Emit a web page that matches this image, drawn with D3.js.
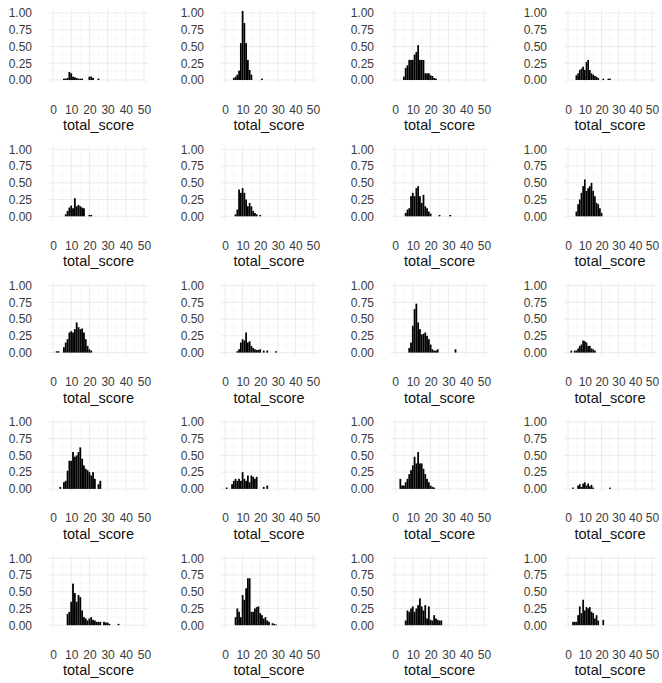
<!DOCTYPE html>
<html><head><meta charset="utf-8">
<script src="https://cdn.jsdelivr.net/npm/d3@7"></script>
<style>body{margin:0;background:#fff}svg{display:block}</style>
</head><body>
<svg id="c" width="662" height="683"></svg>
<script>
// [score, height] pairs per panel (row by row)
const panel01 = [[6,0.02],[7,0.02],[8,0.03],[9,0.12],[10,0.10],[11,0.05],[12,0.04],[13,0.03],[14,0.02],[15,0.02],[16,0.02],[20,0.05],[21,0.05],[22,0.03],[25,0.02]];
const panel02 = [[5,0.03],[6,0.05],[7,0.08],[8,0.14],[9,0.55],[10,1.03],[11,0.85],[12,0.55],[13,0.3],[14,0.15],[15,0.08],[21,0.02]];
const panel03 = [[5,0.05],[6,0.18],[7,0.22],[8,0.3],[9,0.3],[10,0.3],[11,0.38],[12,0.42],[13,0.52],[14,0.3],[15,0.3],[16,0.3],[17,0.1],[18,0.1],[19,0.1],[20,0.07],[21,0.06],[22,0.03],[23,0.02]];
const panel04 = [[5,0.07],[6,0.1],[7,0.15],[8,0.17],[9,0.2],[10,0.15],[11,0.27],[12,0.3],[13,0.15],[14,0.1],[15,0.08],[16,0.06],[17,0.05],[18,0.03],[21,0.02],[24,0.02],[25,0.02]];
const panel05 = [[7,0.03],[8,0.08],[9,0.13],[10,0.16],[11,0.12],[12,0.27],[13,0.15],[14,0.17],[15,0.15],[16,0.13],[17,0.12],[20,0.02],[21,0.02]];
const panel06 = [[6,0.03],[7,0.1],[8,0.4],[9,0.35],[10,0.42],[11,0.35],[12,0.25],[13,0.15],[14,0.2],[15,0.15],[16,0.08],[17,0.05],[18,0.03],[20,0.02]];
const panel07 = [[6,0.05],[7,0.1],[8,0.12],[9,0.3],[10,0.35],[11,0.3],[12,0.42],[13,0.45],[14,0.3],[15,0.2],[16,0.32],[17,0.15],[18,0.12],[19,0.07],[20,0.04],[25,0.02],[31,0.02]];
const panel08 = [[5,0.07],[6,0.18],[7,0.25],[8,0.35],[9,0.45],[10,0.55],[11,0.38],[12,0.42],[13,0.45],[14,0.5],[15,0.38],[16,0.3],[17,0.2],[18,0.18],[19,0.12],[20,0.05]];
const panel09 = [[2,0.02],[3,0.02],[6,0.08],[7,0.15],[8,0.2],[9,0.3],[10,0.32],[11,0.3],[12,0.35],[13,0.45],[14,0.38],[15,0.35],[16,0.36],[17,0.3],[18,0.2],[19,0.1],[20,0.05],[21,0.03]];
const panel10 = [[7,0.02],[8,0.05],[9,0.15],[10,0.2],[11,0.18],[12,0.3],[13,0.15],[14,0.17],[15,0.1],[16,0.07],[17,0.05],[18,0.04],[19,0.04],[20,0.05],[22,0.03],[24,0.03],[29,0.02]];
const panel11 = [[8,0.07],[9,0.15],[10,0.4],[11,0.65],[12,0.73],[13,0.45],[14,0.35],[15,0.27],[16,0.28],[17,0.3],[18,0.25],[19,0.2],[20,0.12],[21,0.05],[22,0.03],[23,0.03],[24,0.05],[34,0.05]];
const panel12 = [[2,0.03],[4,0.03],[5,0.03],[6,0.06],[7,0.1],[8,0.12],[9,0.18],[10,0.17],[11,0.15],[12,0.1],[13,0.1],[14,0.06],[15,0.05],[16,0.03]];
const panel13 = [[4,0.03],[6,0.1],[7,0.12],[8,0.27],[9,0.42],[10,0.42],[11,0.55],[12,0.48],[13,0.5],[14,0.55],[15,0.62],[16,0.45],[17,0.35],[18,0.3],[19,0.28],[20,0.25],[21,0.2],[22,0.25],[23,0.15],[25,0.07],[26,0.12]];
const panel14 = [[1,0.02],[4,0.07],[5,0.12],[6,0.15],[7,0.12],[8,0.15],[9,0.12],[10,0.25],[11,0.15],[12,0.12],[13,0.2],[14,0.1],[15,0.2],[16,0.18],[17,0.15],[18,0.18],[22,0.03],[24,0.05]];
const panel15 = [[3,0.15],[4,0.05],[5,0.05],[6,0.1],[7,0.15],[8,0.22],[9,0.28],[10,0.35],[11,0.48],[12,0.38],[13,0.55],[14,0.38],[15,0.38],[16,0.3],[17,0.22],[18,0.15],[19,0.1],[20,0.05],[21,0.03],[22,0.02]];
const panel16 = [[3,0.02],[6,0.05],[7,0.07],[8,0.03],[9,0.08],[10,0.1],[11,0.05],[12,0.08],[13,0.04],[14,0.06],[15,0.02],[25,0.02]];
const panel17 = [[8,0.17],[9,0.2],[10,0.35],[11,0.62],[12,0.48],[13,0.35],[14,0.45],[15,0.42],[16,0.22],[17,0.12],[18,0.1],[19,0.07],[20,0.1],[21,0.12],[22,0.08],[23,0.07],[24,0.05],[25,0.05],[26,0.05],[28,0.05],[29,0.04],[30,0.04],[31,0.02],[36,0.02]];
const panel18 = [[6,0.12],[7,0.25],[8,0.2],[9,0.12],[10,0.45],[11,0.38],[12,0.55],[13,0.7],[14,0.7],[15,0.2],[16,0.2],[17,0.25],[18,0.27],[19,0.28],[20,0.18],[21,0.15],[22,0.1],[23,0.12],[24,0.07],[25,0.05],[27,0.03],[28,0.02],[29,0.01]];
const panel19 = [[6,0.07],[7,0.22],[8,0.2],[9,0.25],[10,0.28],[11,0.2],[12,0.25],[13,0.3],[14,0.4],[15,0.28],[16,0.22],[17,0.3],[18,0.1],[19,0.28],[20,0.08],[21,0.07],[22,0.15],[23,0.1],[24,0.08],[25,0.07],[26,0.07]];
const panel20 = [[3,0.05],[4,0.05],[5,0.05],[6,0.15],[7,0.28],[8,0.18],[9,0.38],[10,0.22],[11,0.27],[12,0.25],[13,0.27],[14,0.2],[15,0.18],[16,0.1],[17,0.15],[18,0.07],[21,0.08]];

const xTicks = [0, 10, 20, 30, 40, 50];
const xMinor = [5, 15, 25, 35, 45];
const yTicks = [0, 0.25, 0.5, 0.75, 1];
const yMinor = [0.125, 0.375, 0.625, 0.875];
const xTitle = "total_score";

const panels = [panel01,panel02,panel03,panel04,panel05,panel06,panel07,panel08,panel09,panel10,
                panel11,panel12,panel13,panel14,panel15,panel16,panel17,panel18,panel19,panel20];

const svg = d3.select("#c");
const font = "'Liberation Sans', Arial, sans-serif";
const colZero = [53, 225, 395, 568];   // pixel of score 0 per column
const colSpan = [91, 88, 89, 84];      // pixels from 0 to 50 per column
const unitY = 67;

panels.forEach((data, i) => {
  const r = Math.floor(i / 4), c = i % 4;
  const x0 = colZero[c];
  const ux = colSpan[c] / 50;
  const y0 = 80 + 136.3 * r;          // pixel of value 0
  const x = d3.scaleLinear().domain([-2.5, 52.5]).range([x0 - 2.5*ux, x0 + 52.5*ux]);
  const y = d3.scaleLinear().domain([-0.05, 1.05]).range([y0 + 0.05*unitY, y0 - 1.05*unitY]);
  const g = svg.append("g");

  // grid
  g.selectAll(".vmin").data(xMinor).join("line")
    .attr("x1", d => x(d)).attr("x2", d => x(d)).attr("y1", y(-0.05)).attr("y2", y(1.05))
    .attr("stroke", "#f3f3f3").attr("stroke-width", 0.6);
  g.selectAll(".hmin").data(yMinor).join("line")
    .attr("y1", d => y(d)).attr("y2", d => y(d)).attr("x1", x(-2.5)).attr("x2", x(52.5))
    .attr("stroke", "#f3f3f3").attr("stroke-width", 0.6);
  g.selectAll(".vmaj").data(xTicks).join("line")
    .attr("x1", d => x(d)).attr("x2", d => x(d)).attr("y1", y(-0.05)).attr("y2", y(1.05))
    .attr("stroke", "#ebebeb").attr("stroke-width", 1);
  g.selectAll(".hmaj").data(yTicks).join("line")
    .attr("y1", d => y(d)).attr("y2", d => y(d)).attr("x1", x(-2.5)).attr("x2", x(52.5))
    .attr("stroke", "#ebebeb").attr("stroke-width", 1);

  // bars
  g.selectAll("rect").data(data).join("rect")
    .attr("x", d => x(d[0] - 0.5)).attr("width", x(1) - x(0))
    .attr("y", d => y(d[1])).attr("height", d => y(0) - y(d[1]))
    .attr("fill", "#000");

  // y axis
  const ya = g.append("g").attr("transform", `translate(${x0 - 21},0)`)
    .call(d3.axisLeft(y).tickValues(yTicks).tickFormat(d3.format(".2f")).tickSize(0).tickPadding(0));
  ya.select(".domain").remove();
  ya.selectAll("text").attr("font-family", font).attr("font-size", 12).attr("fill", "#3a3a3a");

  // x axis
  const xa = g.append("g").attr("transform", `translate(0,${y0 + 25})`)
    .call(d3.axisBottom(x).tickValues(xTicks).tickFormat(d3.format("d")).tickSize(0).tickPadding(0));
  xa.select(".domain").remove();
  xa.selectAll("text").attr("font-family", font).attr("font-size", 12).attr("fill", "#3a3a3a");

  g.append("text").attr("x", x(25)).attr("y", y0 + 50)
    .attr("text-anchor", "middle").attr("font-family", font).attr("font-size", 14.5)
    .attr("fill", "#111").text(xTitle);
});
</script>
</body></html>
